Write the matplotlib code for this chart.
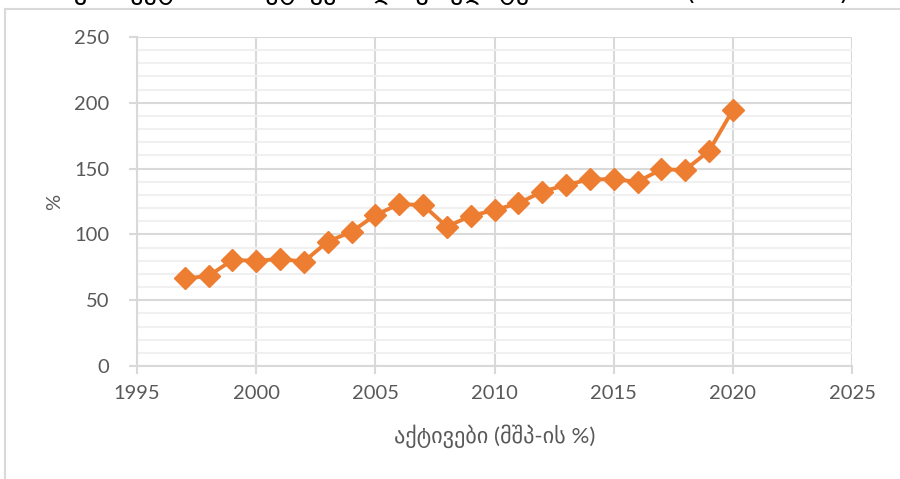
import matplotlib
matplotlib.use("Agg")
import matplotlib.pyplot as plt
from matplotlib.ticker import MultipleLocator
from matplotlib.lines import Line2D

years = [1997, 1998, 1999, 2000, 2001, 2002, 2003, 2004, 2005, 2006, 2007, 2008,
         2009, 2010, 2011, 2012, 2013, 2014, 2015, 2016, 2017, 2018, 2019, 2020]
values = [66.5, 68.4, 80.5, 80.0, 81.3, 79.3, 94.5, 102.0, 114.7, 123.0, 122.3, 105.9,
          114.0, 118.5, 123.6, 132.5, 137.5, 141.9, 141.9, 140.0, 149.4, 149.0, 163.4, 194.5]
x_label = "აქტივები (მშპ-ის %)"
y_label = "%"
title = "საბანკო სექტორის აქტივები და კრედიტები მშპ-სთან (1997-2020)"

plt.rcParams['font.family'] = ['Lato', 'DejaVu Sans']
txt = '#595959'
grid_major = '#d9d9d9'
grid_minor = '#f0f0f0'
orange = '#ED7D31'

fig = plt.figure(figsize=(9, 4.79), dpi=100)
ax = fig.add_axes([137/900, 1 - 366/479, 715/900, 329/479])

ax.plot(years, values, color=orange, lw=2.8, marker='D', markersize=11.5,
        markeredgecolor=orange, markerfacecolor=orange, zorder=5, clip_on=False)

ax.set_xlim(1995, 2025)
ax.set_ylim(0, 250)
ax.xaxis.set_major_locator(MultipleLocator(5))
ax.yaxis.set_major_locator(MultipleLocator(50))
ax.yaxis.set_minor_locator(MultipleLocator(10))

ax.grid(which='major', axis='both', color=grid_major, lw=1.5, zorder=1)
ax.grid(which='minor', axis='y', color=grid_minor, lw=1.5, zorder=0)
ax.set_axisbelow(True)

for s in ['top', 'right']:
    ax.spines[s].set_visible(False)
for s in ['left', 'bottom']:
    ax.spines[s].set_color(grid_major)
    ax.spines[s].set_linewidth(1.5)

ax.tick_params(axis='both', which='major', colors=grid_major, length=6, width=1.5,
               labelcolor=txt, labelsize=14.5)
ax.tick_params(axis='y', which='major', pad=14)
ax.tick_params(axis='y', which='minor', length=0)
ax.tick_params(axis='x', which='major', pad=8)

ax.set_xlabel(x_label, color=txt, fontsize=16, labelpad=16)
ax.set_ylabel(y_label, color=txt, fontsize=14.5, labelpad=8)

# chart frame (cropped border)
fig.add_artist(Line2D([5/900, 5/900], [0, 1 - 9/479], color=grid_major, lw=1.5,
                      transform=fig.transFigure))
fig.add_artist(Line2D([5/900, 1], [1 - 9/479, 1 - 9/479], color=grid_major, lw=1.5,
                      transform=fig.transFigure))

# cropped title (only descenders visible)
fig.text(0.475, 1 + 1/479, title, ha='center', va='baseline', fontsize=19,
         color='black', family=['DejaVu Sans'])

fig.savefig('out.png', dpi=100)
